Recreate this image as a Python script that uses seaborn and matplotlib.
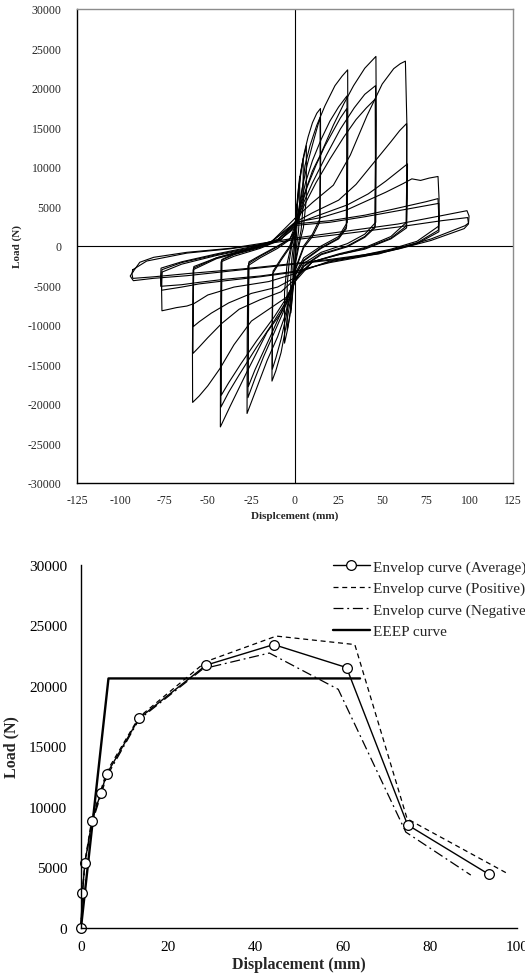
import numpy as np
import pandas as pd
import matplotlib
matplotlib.use("Agg")
import matplotlib.pyplot as plt
import seaborn as sns

# ---- hysteresis loops (displacement mm, load N), one pair of lists per cycle ----
L1_d = [0, 0.4, 0.8, 1.2, 1.2, 0.8, 0.3, 0, -0.4, -0.8, -1.2, -1.2, -0.8, -0.3, 0]
L1_p = [1200, 2600, 4000, 5300, 3000, 1200, 0, -1300, -2700, -4000, -5100, -2800, -1100, 0, 1200]
L2_d = [0, 0.7, 1.4, 2.1, 2.7, 2.7, 2, 1, 0, -0.7, -1.4, -2, -2.5, -2.5, -1.8, -0.8, 0]
L2_p = [1500, 3800, 6000, 7600, 8800, 4500, 1800, 200, -1800, -4000, -6200, -7600, -8500, -4300, -1600, 200, 1500]
L3_d = [0, 1, 2, 3.2, 4.7, 4.7, 3.5, 2, 0, -1, -2, -3.2, -4.5, -4.5, -3.3, -1.8, 0]
L3_p = [2000, 4800, 7200, 9300, 11100, 5200, 2000, 300, -2200, -4900, -7300, -9200, -10600, -5000, -1900, 100, 2000]
L4_d = [0, 1.2, 2.5, 4, 6.5, 6.5, 4.8, 2.5, 0, -1.2, -2.5, -4, -6, -6, -4.5, -2.2, 0]
L4_p = [2200, 5000, 7800, 10200, 12700, 6000, 2300, 300, -2500, -5300, -8000, -10300, -12300, -5800, -2200, 100, 2200]

L5a_d = [0, 1.5, 3, 5, 7.5, 10, 12.5, 14.6, 14.7, 14.4, 10, 5, 0, -2, -5, -8, -11, -13.2, -13.1, -12.8, -8, -3, 0]
L5a_p = [2500, 5500, 8800, 11500, 13800, 15600, 16800, 17400, 11000, 3500, 1500, 0, -3000, -6000, -10000, -13500, -15800, -17100, -9500, -3500, -1800, -200, 2000]
L5b_d = [0, 2, 4, 7, 10, 12.5, 14.4, 14.4, 14.1, 10, 5, 0, -2, -5, -8, -11, -13, -12.9, -12.6, -8, -3, 0]
L5b_p = [2000, 4500, 7200, 10300, 12800, 14800, 16300, 10000, 3000, 1200, -200, -3200, -5500, -8800, -11800, -14200, -15600, -9000, -3200, -1600, 0, 2000]

L6a_d = [0, 1.9, 3.8, 5.7, 8.6, 12.4, 17.2, 22.9, 27, 30.2, 30.3, 30, 25, 15, 5, 0, -3, -6, -10, -16, -22, -27.5, -27.4, -27, -20, -10, -3, 0]
L6a_p = [2500, 3840, 6370, 10160, 12700, 15230, 17760, 20290, 21500, 22300, 14000, 3000, 1200, 0, -1500, -3500, -6500, -9000, -11500, -14500, -18000, -21200, -12000, -2500, -1500, -300, 800, 2500]
L6b_d = [0, 3, 6, 10, 15, 20, 25, 29.8, 29.9, 29.6, 25, 15, 5, 0, -3, -7, -12, -18, -23, -27, -26.9, -26.6, -20, -10, -3, 0]
L6b_p = [2000, 5000, 8000, 10800, 13500, 15800, 17600, 19000, 12000, 2500, 1000, -200, -1800, -3800, -6000, -8500, -11000, -14000, -16800, -19200, -11000, -2200, -1300, -100, 900, 2000]
L6c_d = [0, 3, 7, 12, 17, 22, 26, 29.7, 29.7, 29.4, 25, 15, 5, 0, -3, -8, -13, -18, -23, -26.8, -26.7, -26.4, -20, -10, -3, 0]
L6c_p = [1800, 4500, 7500, 10200, 12600, 14600, 16200, 17400, 10500, 2200, 900, -300, -1900, -3700, -5800, -8400, -10900, -13300, -15700, -17800, -10000, -2000, -1200, 0, 900, 1800]

L7a_d = [0, 3, 6, 10, 14.5, 22, 28, 33.6, 40, 46.4, 46.6, 46.3, 40, 30, 15, 5, 0, -3, -8, -16, -27.5, -37, -42.8, -42.7, -42.4, -35, -20, -8, 0]
L7a_p = [3000, 5000, 7000, 9500, 11500, 15300, 18000, 20300, 22500, 24000, 16000, 3000, 1500, 300, -800, -2200, -4500, -6500, -8500, -10900, -15900, -20200, -22900, -12000, -2000, -1300, -300, 800, 3000]
L7b_d = [0, 5, 10, 18, 26, 34, 40, 46.2, 46.3, 46, 40, 30, 15, 5, 0, -5, -12, -22, -32, -38, -42.5, -42.4, -42.1, -35, -20, -8, 0]
L7b_p = [2500, 5500, 8000, 11500, 14800, 17500, 19200, 20300, 13000, 2500, 1200, 0, -1000, -2500, -4500, -7000, -9500, -12800, -16300, -18500, -20400, -11000, -1800, -1100, -200, 900, 2500]
L7c_d = [0, 5, 12, 20, 28, 35, 41, 46, 46.1, 45.8, 40, 30, 15, 5, 0, -5, -12, -22, -31, -38, -42.3, -42.2, -41.9, -35, -20, -8, 0]
L7c_p = [2300, 5000, 8000, 11000, 13800, 16000, 17500, 18600, 11500, 2300, 1100, -100, -1100, -2600, -4400, -6600, -9000, -12000, -14900, -17300, -18900, -10000, -1700, -1000, -100, 900, 2300]

L8a_d = [0, 10, 22, 31.7, 41.3, 50, 56.6, 60.4, 63.3, 64.2, 63.9, 55, 40, 25, 10, 0, -5, -15, -25, -35, -43, -50, -55, -58.7, -58.8, -58.4, -45, -30, -15, 0]
L8a_p = [3500, 5500, 7700, 11500, 16500, 20500, 22450, 23080, 23400, 15000, 3000, 1200, -200, -1000, -2000, -4500, -6500, -8000, -9500, -12500, -15500, -17700, -19000, -19800, -13000, -3000, -1600, -700, 200, 3500]
L8b_d = [0, 10, 25, 35, 45, 55, 60, 64, 64.1, 63.7, 55, 40, 25, 10, 0, -8, -20, -32, -42, -50, -55, -58.5, -58.5, -58.2, -45, -30, -15, 0]
L8b_p = [3000, 4200, 5800, 7800, 10500, 13200, 14600, 15500, 9000, 2500, 1000, -300, -1100, -2000, -4200, -5800, -6800, -8000, -9800, -11600, -12800, -13600, -8000, -2800, -1500, -600, 300, 3000]
L8c_d = [0, 15, 30, 42, 52, 60, 64.5, 64.4, 64, 55, 40, 25, 10, 0, -10, -25, -38, -48, -55, -58.3, -58.3, -58, -45, -30, -15, 0]
L8c_p = [2800, 4000, 5200, 6600, 8200, 9600, 10400, 6000, 2300, 900, -400, -1100, -2000, -4000, -5200, -6000, -7200, -8500, -9600, -10200, -6000, -2600, -1500, -600, 300, 2800]

L9a_d = [0, 15, 30, 40, 52, 62, 67, 72, 77, 82, 82.6, 82.3, 70, 55, 40, 20, 0, -15, -35, -50, -58, -62, -68, -72, -76.3, -76.5, -76.2, -65, -45, -25, -10, 0]
L9a_p = [3000, 3600, 4600, 5600, 6800, 7900, 8500, 8300, 8600, 8800, 6000, 2500, 600, -400, -1100, -1900, -3500, -4500, -5200, -6200, -7300, -7600, -7800, -8000, -8200, -5500, -3300, -2300, -1200, -300, 700, 3000]
L9b_d = [0, 20, 40, 55, 65, 75, 82, 82.4, 82.2, 70, 55, 40, 20, 0, -20, -40, -55, -65, -76.5, -76.6, -76.3, -65, -45, -25, -10, 0]
L9b_p = [2800, 3200, 3900, 4600, 5100, 5600, 6000, 4000, 2000, 400, -500, -1200, -2000, -3300, -3900, -4400, -4800, -5200, -5600, -4200, -3000, -2100, -1100, -200, 800, 2800]
L9c_d = [0, 20, 40, 55, 65, 75, 82.5, 82.8, 82.5, 70, 55, 40, 20, 0, -20, -40, -55, -65, -77, -77.1, -76.8, -65, -45, -25, -10, 0]
L9c_p = [2600, 3000, 3700, 4300, 4700, 5100, 5400, 3600, 1800, 300, -600, -1300, -2100, -3200, -3800, -4200, -4600, -4900, -5100, -3900, -2800, -2000, -1000, -100, 800, 2600]

L10a_d = [-93, -89, -81, -62, -37, 0, 30, 59, 84, 98.6, 99.8, 99.5, 97.5, 78, 59, 48, 20, 0, -30, -62, -81, -92.7, -94.5, -93]
L10a_p = [-3300, -2060, -1430, -800, -290, 1000, 1900, 2780, 3840, 4470, 3800, 2900, 2570, 890, -290, -1010, -1800, -2300, -3000, -3760, -4090, -4390, -3800, -3300]
L10b_d = [-93, -85, -62, -37, 0, 30, 59, 84, 99, 99.5, 97, 78, 59, 40, 20, 0, -30, -62, -81, -93, -93.5, -93]
L10b_p = [-3000, -1900, -900, -350, 800, 1600, 2400, 3200, 3600, 2800, 2200, 700, -400, -1100, -1700, -2200, -2900, -3500, -3900, -4100, -3500, -3000]

cycles = [(L1_d, L1_p), (L2_d, L2_p), (L3_d, L3_p), (L4_d, L4_p),
          (L5a_d, L5a_p), (L5b_d, L5b_p),
          (L6a_d, L6a_p), (L6b_d, L6b_p), (L6c_d, L6c_p),
          (L7a_d, L7a_p), (L7b_d, L7b_p), (L7c_d, L7c_p),
          (L8a_d, L8a_p), (L8b_d, L8b_p), (L8c_d, L8c_p),
          (L9a_d, L9a_p), (L9b_d, L9b_p), (L9c_d, L9c_p),
          (L10a_d, L10a_p), (L10b_d, L10b_p)]

# ---- envelope curves ----
disp_avg = [0, 0.3, 0.9, 2.5, 4.5, 5.9, 13.3, 28.7, 44.2, 60.9, 74.9, 93.6]
load_avg = [0, 2850, 5350, 8800, 11100, 12700, 17300, 21700, 23400, 21500, 8500, 4400]
disp_pos = [0, 0.3, 0.9, 2.5, 4.5, 5.9, 13.3, 28.7, 44.8, 62.8, 74.8, 97.7]
load_pos = [0, 2900, 5500, 9000, 11300, 12900, 17400, 22000, 24100, 23400, 9000, 4500]
disp_neg = [0, 0.3, 0.9, 2.5, 4.5, 5.9, 13.3, 28.0, 43.2, 59.0, 74.5, 89.4]
load_neg = [0, 2700, 5200, 8600, 10900, 12500, 17200, 21400, 22700, 19700, 7900, 4350]
disp_eeep = [0, 6.3, 64.0]
load_eeep = [0, 20600, 20600]

sns.set_style("white")
plt.rcParams['font.family'] = ['Liberation Serif', 'DejaVu Serif']
plt.rcParams['axes.unicode_minus'] = False

fig = plt.figure(figsize=(5.25, 9.78), dpi=100)

# ---------------- top: hysteresis ----------------
ax1 = fig.add_axes([77 / 525, 1 - 484 / 978, 436 / 525, 474 / 978])
rows = []
for i, (d, p) in enumerate(cycles):
    for x, y in zip(d, p):
        rows.append((i, x, y))
hyst = pd.DataFrame(rows, columns=['cycle', 'disp', 'load'])
sns.lineplot(data=hyst, x='disp', y='load', units='cycle', estimator=None, sort=False,
             color='black', lw=0.8, ax=ax1)
ax1.axhline(0, color='black', lw=0.8)
ax1.axvline(0, color='black', lw=0.8)
ax1.set_xlim(-125, 125)
ax1.set_ylim(-30000, 30000)
ax1.set_xticks(np.arange(-125, 126, 25))
ax1.set_yticks(np.arange(-30000, 30001, 5000))
ax1.tick_params(length=0, labelsize=8.5, pad=8)
ax1.tick_params(axis='y', pad=11)
for s in ['left', 'bottom']:
    ax1.spines[s].set_color('black')
for s in ['top', 'right']:
    ax1.spines[s].set_color('#8c8c8c')
for s in ax1.spines.values():
    s.set_linewidth(1.0)
ax1.set_xlabel('Displcement (mm)', fontsize=8, fontweight='bold', labelpad=3)
ax1.set_ylabel('Load (N)', fontsize=8, fontweight='bold', labelpad=4)

# ---------------- bottom: envelopes ----------------
ax2 = fig.add_axes([81 / 525, 1 - 928.7 / 978, 436 / 525, 363 / 978])
sns.lineplot(x=disp_eeep, y=load_eeep, sort=False, color='black', lw=1.7, ax=ax2)
sns.lineplot(x=disp_pos, y=load_pos, sort=False, color='black', lw=0.9, ax=ax2)
ax2.lines[-1].set_dashes((4, 3))
sns.lineplot(x=disp_neg, y=load_neg, sort=False, color='black', lw=0.9, ax=ax2)
ax2.lines[-1].set_dashes((8, 3, 1.5, 3))
sns.lineplot(x=disp_avg, y=load_avg, sort=False, color='black', lw=1.0,
             marker='o', markersize=7, markerfacecolor='white',
             markeredgecolor='black', markeredgewidth=0.9, ax=ax2)
for ln in ax2.lines:
    ln.set_clip_on(False)
eeep_line, pos_line, neg_line, avg_line = ax2.lines[:4]
ax2.set_xlim(0, 100)
ax2.set_ylim(0, 30000)
ax2.set_xticks(np.arange(0, 101, 20))
ax2.set_yticks(np.arange(0, 30001, 5000))
ax2.tick_params(direction='in', length=4, width=1, labelsize=11, colors='black')
ax2.tick_params(axis='y', pad=10)
ax2.tick_params(axis='x', pad=9)
ax2.spines['top'].set_visible(False)
ax2.spines['right'].set_visible(False)
for s in ['left', 'bottom']:
    ax2.spines[s].set_color('black')
    ax2.spines[s].set_linewidth(1.0)
ax2.set_xlabel('Displacement (mm)', fontsize=11.5, fontweight='bold', labelpad=2)
ax2.set_ylabel('Load (N)', fontsize=11.5, fontweight='bold', labelpad=7)
ax2.legend([avg_line, pos_line, neg_line, eeep_line],
           ['Envelop curve (Average)', 'Envelop curve (Positive)',
            'Envelop curve (Negative)', 'EEEP curve'],
           loc='upper left', bbox_to_anchor=(333 / 525, 1 - 561 / 978),
           bbox_transform=fig.transFigure, frameon=False, fontsize=11,
           borderpad=0, borderaxespad=0, handlelength=2.4, handletextpad=0.2,
           labelspacing=0.5)

fig.savefig('out.png', dpi=100)
